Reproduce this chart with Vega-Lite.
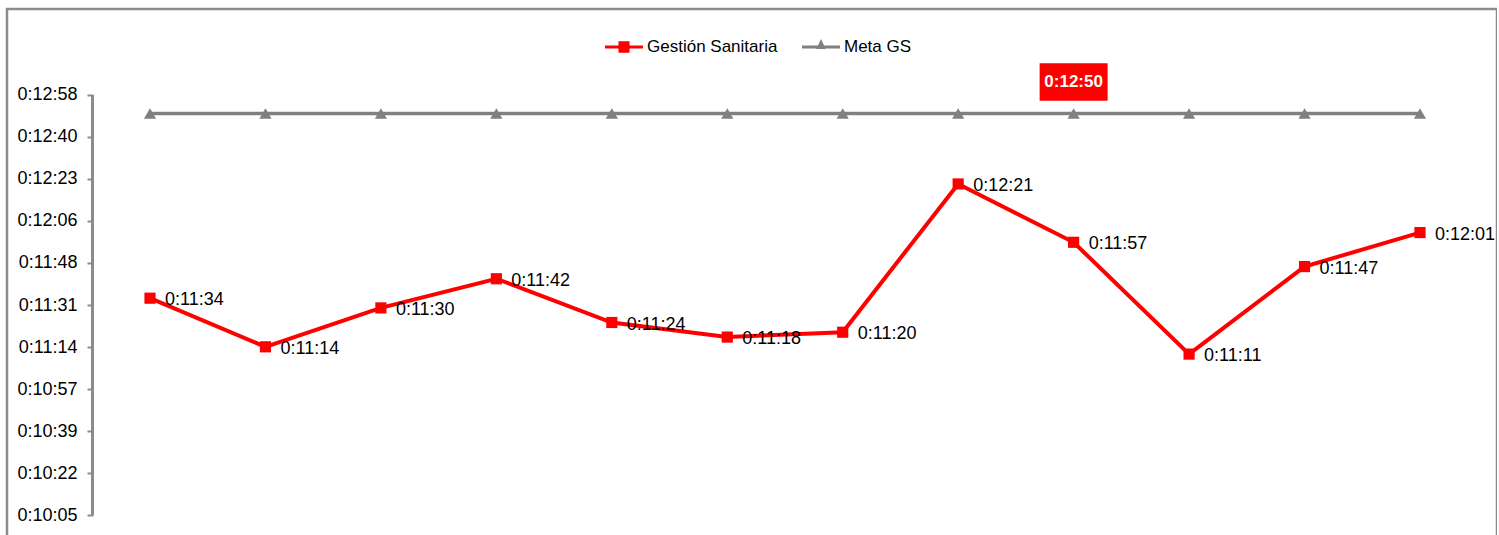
{
  "$schema": "https://vega.github.io/schema/vega-lite/v6.json",
  "width": 1490,
  "height": 536,
  "autosize": {"type": "none"},
  "padding": {"left": 7, "top": 9, "right": 0, "bottom": 0},
  "background": "#ffffff",
  "config": {
    "view": {"stroke": "#8c8c8c", "strokeWidth": 2.5},
    "font": "Liberation Sans, Arial, sans-serif",
    "axis": {"labelFont": "Liberation Sans, Arial, sans-serif"},
    "legend": {"labelFont": "Liberation Sans, Arial, sans-serif"}
  },
  "data": {
    "values": [
      {"mes": 1, "serie": "Gestión Sanitaria", "segundos": 694, "rotulo": "0:11:34"},
      {"mes": 2, "serie": "Gestión Sanitaria", "segundos": 674, "rotulo": "0:11:14"},
      {"mes": 3, "serie": "Gestión Sanitaria", "segundos": 690, "rotulo": "0:11:30"},
      {"mes": 4, "serie": "Gestión Sanitaria", "segundos": 702, "rotulo": "0:11:42"},
      {"mes": 5, "serie": "Gestión Sanitaria", "segundos": 684, "rotulo": "0:11:24"},
      {"mes": 6, "serie": "Gestión Sanitaria", "segundos": 678, "rotulo": "0:11:18"},
      {"mes": 7, "serie": "Gestión Sanitaria", "segundos": 680, "rotulo": "0:11:20"},
      {"mes": 8, "serie": "Gestión Sanitaria", "segundos": 741, "rotulo": "0:12:21"},
      {"mes": 9, "serie": "Gestión Sanitaria", "segundos": 717, "rotulo": "0:11:57"},
      {"mes": 10, "serie": "Gestión Sanitaria", "segundos": 671, "rotulo": "0:11:11"},
      {"mes": 11, "serie": "Gestión Sanitaria", "segundos": 707, "rotulo": "0:11:47"},
      {"mes": 12, "serie": "Gestión Sanitaria", "segundos": 721, "rotulo": "0:12:01"},
      {"mes": 1, "serie": "Meta GS", "segundos": 770, "rotulo": ""},
      {"mes": 2, "serie": "Meta GS", "segundos": 770, "rotulo": ""},
      {"mes": 3, "serie": "Meta GS", "segundos": 770, "rotulo": ""},
      {"mes": 4, "serie": "Meta GS", "segundos": 770, "rotulo": ""},
      {"mes": 5, "serie": "Meta GS", "segundos": 770, "rotulo": ""},
      {"mes": 6, "serie": "Meta GS", "segundos": 770, "rotulo": ""},
      {"mes": 7, "serie": "Meta GS", "segundos": 770, "rotulo": ""},
      {"mes": 8, "serie": "Meta GS", "segundos": 770, "rotulo": ""},
      {"mes": 9, "serie": "Meta GS", "segundos": 770, "rotulo": "0:12:50"},
      {"mes": 10, "serie": "Meta GS", "segundos": 770, "rotulo": ""},
      {"mes": 11, "serie": "Meta GS", "segundos": 770, "rotulo": ""},
      {"mes": 12, "serie": "Meta GS", "segundos": 770, "rotulo": ""}
    ]
  },
  "encoding": {
    "x": {
      "field": "mes",
      "type": "quantitative",
      "axis": null,
      "scale": {"domain": [-0.2386, 12.667], "nice": false, "zero": false}
    },
    "y": {
      "field": "segundos",
      "type": "quantitative",
      "scale": {"domain": [592.46, 812.98], "nice": false, "zero": false},
      "axis": {
        "title": null,
        "grid": false,
        "domain": false,
        "offset": -86,
        "values": [604.8, 622.08, 639.36, 656.64, 673.92, 691.2, 708.48, 725.76, 743.04, 760.32, 777.6],
        "labelExpr": "'0:' + floor(round(datum.value) / 60) + ':' + (round(datum.value) % 60 < 10 ? '0' : '') + (round(datum.value) % 60)",
        "tickSize": 6,
        "tickWidth": 2,
        "tickColor": "#8c8c8c",
        "labelPadding": 10,
        "labelFontSize": 18,
        "labelColor": "#000000"
      }
    }
  },
  "layer": [
    {
      "mark": {"type": "rule", "color": "#8c8c8c", "strokeWidth": 2},
      "encoding": {
        "x": {"datum": 0.5},
        "y": {"datum": 604.8},
        "y2": {"datum": 777.6}
      }
    },
    {
      "transform": [{"filter": "datum.serie === 'Meta GS'"}],
      "mark": {"type": "line", "strokeWidth": 3.5, "color": "#808080"},
      "encoding": {"order": {"field": "mes"}}
    },
    {
      "transform": [{"filter": "datum.serie === 'Gestión Sanitaria'"}],
      "mark": {"type": "line", "strokeWidth": 4, "color": "#ff0000"},
      "encoding": {"order": {"field": "mes"}}
    },
    {
      "transform": [{"filter": "datum.serie === 'Gestión Sanitaria'"}],
      "mark": {"type": "point", "shape": "square", "size": 125, "filled": true, "opacity": 1, "color": "#ff0000"}
    },
    {
      "transform": [{"filter": "datum.serie === 'Meta GS'"}],
      "mark": {"type": "point", "shape": "triangle-up", "size": 150, "filled": true, "opacity": 1, "color": "#808080"}
    },
    {
      "transform": [{"filter": "datum.serie === 'Gestión Sanitaria'"}],
      "mark": {"type": "text", "align": "left", "baseline": "middle", "dx": 15, "dy": 2, "fontSize": 18, "color": "#000000"},
      "encoding": {"text": {"field": "rotulo"}}
    },
    {
      "transform": [{"filter": "datum.serie === 'Meta GS' && datum.rotulo !== ''"}],
      "mark": {
        "type": "point",
        "shape": "M-1,-0.55L1,-0.55L1,0.55L-1,0.55Z",
        "size": 4624,
        "filled": true,
        "opacity": 1,
        "color": "#ff0000",
        "yOffset": -31.5
      }
    },
    {
      "transform": [{"filter": "datum.serie === 'Meta GS' && datum.rotulo !== ''"}],
      "mark": {"type": "text", "align": "center", "baseline": "middle", "dy": -31, "fontSize": 17, "fontWeight": "bold", "color": "#ffffff"},
      "encoding": {"text": {"field": "rotulo"}}
    },
    {
      "mark": {"type": "point", "filled": true, "opacity": 0},
      "encoding": {
        "color": {
          "field": "serie",
          "type": "nominal",
          "scale": {"domain": ["Gestión Sanitaria", "Meta GS"], "range": ["#ff0000", "#808080"]},
          "legend": {
            "title": null,
            "orient": "none",
            "direction": "horizontal",
            "legendX": 598,
            "legendY": 19,
            "symbolSize": 1444,
            "symbolStrokeWidth": 0,
            "symbolOpacity": 1,
            "labelFontSize": 17,
            "labelColor": "#000000",
            "labelOffset": 4,
            "columnPadding": 24,
            "padding": 0
          }
        },
        "shape": {
          "field": "serie",
          "type": "nominal",
          "scale": {
            "domain": ["Gestión Sanitaria", "Meta GS"],
            "range": [
              "M-1,-0.08L1,-0.08L1,0.08L-1,0.08Z M-0.29,-0.3L0.29,-0.3L0.29,0.3L-0.29,0.3Z",
              "M-1,-0.08L1,-0.08L1,0.08L-1,0.08Z M-0.25,0.1L0,-0.42L0.25,0.1Z"
            ]
          },
          "legend": {
            "title": null,
            "orient": "none",
            "direction": "horizontal",
            "legendX": 598,
            "legendY": 19,
            "symbolSize": 1444,
            "symbolStrokeWidth": 0,
            "symbolOpacity": 1,
            "labelFontSize": 17,
            "labelColor": "#000000",
            "labelOffset": 4,
            "columnPadding": 24,
            "padding": 0
          }
        }
      }
    }
  ]
}
